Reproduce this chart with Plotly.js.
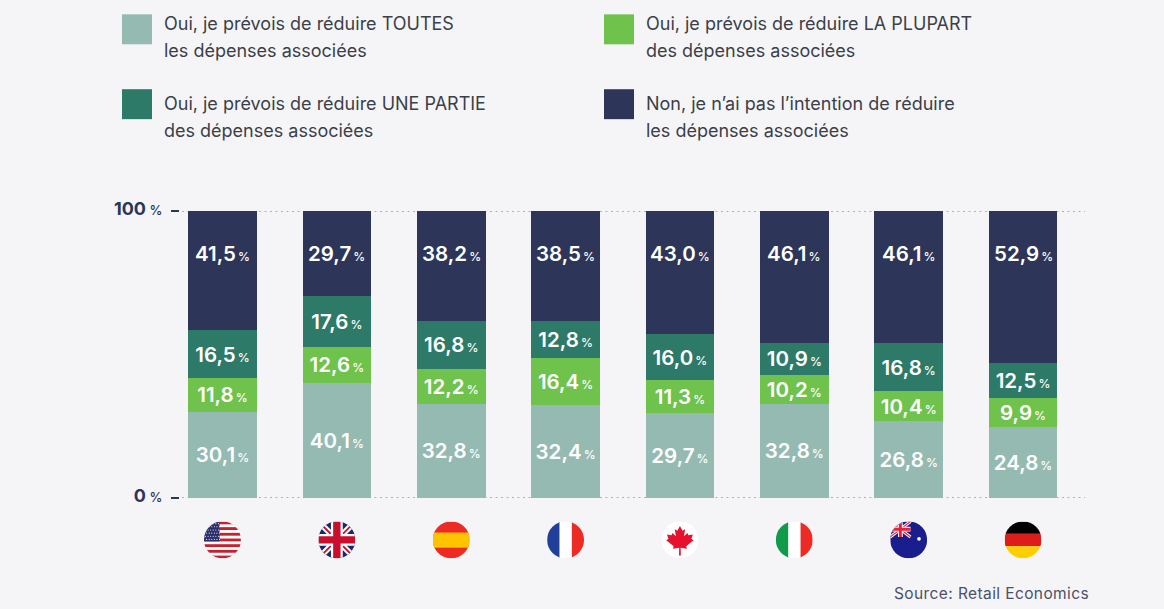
<!DOCTYPE html>
<html><head><meta charset="utf-8">
<script src="https://cdn.plot.ly/plotly-3.0.1.min.js"></script>
<style>html,body{margin:0;padding:0;background:#f5f5f8}#c{width:1164px;height:609px}</style>
</head><body><div id="c"></div>
<script>
const countries = ['États-Unis','Royaume-Uni','Espagne','France','Canada','Italie','Australie','Allemagne'];
const toutes   = [30.1,40.1,32.8,32.4,29.7,32.8,26.8,24.8];
const plupart  = [11.8,12.6,12.2,16.4,11.3,10.2,10.4,9.9];
const partie   = [16.5,17.6,16.8,12.8,16.0,10.9,16.8,12.5];
const non      = [41.5,29.7,38.2,38.5,43.0,46.1,46.1,52.9];
const seriesNames = ['Oui, je prévois de réduire TOUTES les dépenses associées','Oui, je prévois de réduire LA PLUPART des dépenses associées','Oui, je prévois de réduire UNE PARTIE des dépenses associées','Non, je n’ai pas l’intention de réduire les dépenses associées'];
const legendLines = [['Oui, je prévois de réduire TOUTES','les dépenses associées'],['Oui, je prévois de réduire LA PLUPART','des dépenses associées'],['Oui, je prévois de réduire UNE PARTIE','des dépenses associées'],['Non, je n’ai pas l’intention de réduire','les dépenses associées']];
const colors = ['#94bab1','#6fc24c','#2c7a67','#2d3558'];
const sourceText = 'Source: Retail Economics';
const yTicks = [0,100];

const FONT = 'Inter, "Open Sans", sans-serif';
const W=1164,H=609,L=180,R=1085,T=211,B=498.5;
const px = v => (v-L)/(R-L), py = v => (B-v)/(B-T);
const fmt = v => v.toFixed(1).replace('.',',');
const lab = v => fmt(v)+'<span style="font-size:12px;font-weight:500">\u2009%</span>';
const xs = countries.map((_,i)=>i);

const trace = (y,i,withText)=>({type:'bar',x:xs,y:y,name:seriesNames[i],width:0.6,marker:{color:colors[i],line:{width:0}},
  text:withText?y.map(v=>lab(v)):undefined,textposition:withText?'inside':'none',insidetextanchor:'middle',textangle:0,constraintext:'none',
  textfont:{family:FONT,size:20.5,color:'#ffffff',weight:600},hoverinfo:'x+y',cliponaxis:true});
const data=[trace(toutes,0,true),trace(plupart,1,true),trace(partie,2,true),trace(non,3,false)];

const annotations=[];
non.forEach((v,i)=>annotations.push({xref:'x',yref:'y',x:i,y:85.2,text:lab(v),showarrow:false,xanchor:'center',yanchor:'middle',font:{family:FONT,size:20.5,color:'#fff',weight:600}}));
const shapes=[];
yTicks.forEach(v=>shapes.push({type:'line',xref:'paper',yref:'y',x0:px(182),x1:1,y0:v,y1:v,layer:'below',line:{color:'#aeb1ba',width:2,dash:'2px,3.5px'}}));
const legX=[122,604],legY=[14,89],legTextY=[23,103];
legendLines.forEach((ln,i)=>{
  const cx=legX[i%2],r=i>>1,cy=legY[r];
  shapes.push({type:'rect',xref:'paper',yref:'paper',x0:px(cx),x1:px(cx+30),y0:py(cy),y1:py(cy+30),fillcolor:colors[i],line:{width:0}});
  ln.forEach((t,j)=>annotations.push({xref:'paper',yref:'paper',x:px(cx+40),y:py(legTextY[r]+j*27),text:t,showarrow:false,xanchor:'left',yanchor:'middle',font:{family:FONT,size:18,color:'#3b3f48'}}));
});
annotations.push({xref:'paper',yref:'paper',x:px(1091),y:py(594),text:'<span style="letter-spacing:0.4px">'+sourceText+'</span>',showarrow:false,xanchor:'right',yanchor:'middle',font:{family:FONT,size:15.5,color:'#4b5068'}});

const svg=b=>'data:image/svg+xml;charset=utf-8,'+encodeURIComponent('<svg xmlns="http://www.w3.org/2000/svg" viewBox="0 0 100 100" width="100" height="100"><defs><clipPath id="k"><circle cx="50" cy="50" r="50"/></clipPath></defs><g clip-path="url(#k)">'+b+'</g></svg>');
const stripes=()=>{let s='<rect width="100" height="100" fill="#fff"/>';for(let i=0;i<7;i++)s+=`<rect y="${i*15.4}" width="100" height="7.7" fill="#c8202f"/>`;s+='<rect width="42" height="54" fill="#2b2f6b"/>';for(let r=0;r<6;r++)for(let c=0;c<6;c++)s+=`<circle cx="${4+c*7+(r%2?3:0)}" cy="${6+r*8.5}" r="1.5" fill="#fff"/>`;return s;};
const flags=[
 stripes(),
 '<rect width="100" height="100" fill="#17286b"/><path d="M0 0L100 100M100 0L0 100" stroke="#fff" stroke-width="16"/><path d="M0 0L100 100M100 0L0 100" stroke="#c8102e" stroke-width="5"/><path d="M50 0V100M0 50H100" stroke="#fff" stroke-width="32"/><path d="M50 0V100M0 50H100" stroke="#c8102e" stroke-width="20"/>',
 '<rect width="100" height="100" fill="#ee2a24"/><rect y="30" width="100" height="41" fill="#ffc400"/>',
 '<rect width="34" height="100" fill="#1f3f98"/><rect x="34" width="33" height="100" fill="#fff"/><rect x="67" width="33" height="100" fill="#ee2a24"/>',
 '<rect width="100" height="100" fill="#fff"/><path d="M50 12L57 25L64 21L61 40L70 31L73 37L85 35L81 47L87 51L67 67L69 74L52 71L52.5 92H47.5L48 71L31 74L33 67L13 51L19 47L15 35L27 37L30 31L39 40L36 21L43 25Z" fill="#e8112d"/>',
 '<rect width="34" height="100" fill="#129a4b"/><rect x="34" width="33" height="100" fill="#fff"/><rect x="67" width="33" height="100" fill="#ee2a24"/>',
 '<rect width="100" height="100" fill="#1a1e8c"/><g><rect width="55" height="42" fill="#1a1e8c"/><path d="M0 0L55 42M55 0L0 42" stroke="#fff" stroke-width="8"/><path d="M0 0L55 42M55 0L0 42" stroke="#e8213a" stroke-width="3"/><path d="M27.5 0V42M0 21H55" stroke="#fff" stroke-width="13"/><path d="M27.5 0V42M0 21H55" stroke="#e8213a" stroke-width="8"/></g><circle cx="78" cy="47" r="5" fill="#fff"/><path d="M0 68Q6 72 8 80L0 84Z" fill="#fff"/>',
 '<rect width="100" height="33.5" fill="#000"/><rect y="33.5" width="100" height="33.5" fill="#dd1c1c"/><rect y="67" width="100" height="33" fill="#ffce00"/>'
];
const images=flags.map((f,i)=>({source:svg(f),xref:'x',yref:'paper',x:i,y:py(522),sizex:37/114.4,sizey:37/(B-T),xanchor:'center',yanchor:'top',sizing:'contain',layer:'above'}));

const tickL=v=>v+'<span style="font-size:13px;font-weight:500"> %</span>';
const layout={width:W,height:H,margin:{l:L,r:W-R,t:T,b:H-B,pad:0},paper_bgcolor:'#f5f5f8',plot_bgcolor:'#f5f5f8',barmode:'stack',bargap:0.4,showlegend:false,
 font:{family:FONT},
 xaxis:{range:[-(222.5-L)/114.4,7+(R-1023)/114.4],tickvals:xs,showticklabels:false,ticks:'',showgrid:false,zeroline:false,showline:false,fixedrange:true},
 yaxis:{range:[0,100],tickvals:yTicks,ticktext:yTicks.map(tickL),ticks:'outside',ticklen:8,tickwidth:2,tickcolor:'#2d3558',ticklabelstandoff:5,ticklabelshift:-2,tickfont:{family:FONT,size:18,color:'#2d3558',weight:700},showgrid:false,zeroline:false,showline:false,fixedrange:true},
 annotations,shapes,images};
Plotly.newPlot('c',data,layout,{displayModeBar:false,responsive:false});
</script></body></html>
